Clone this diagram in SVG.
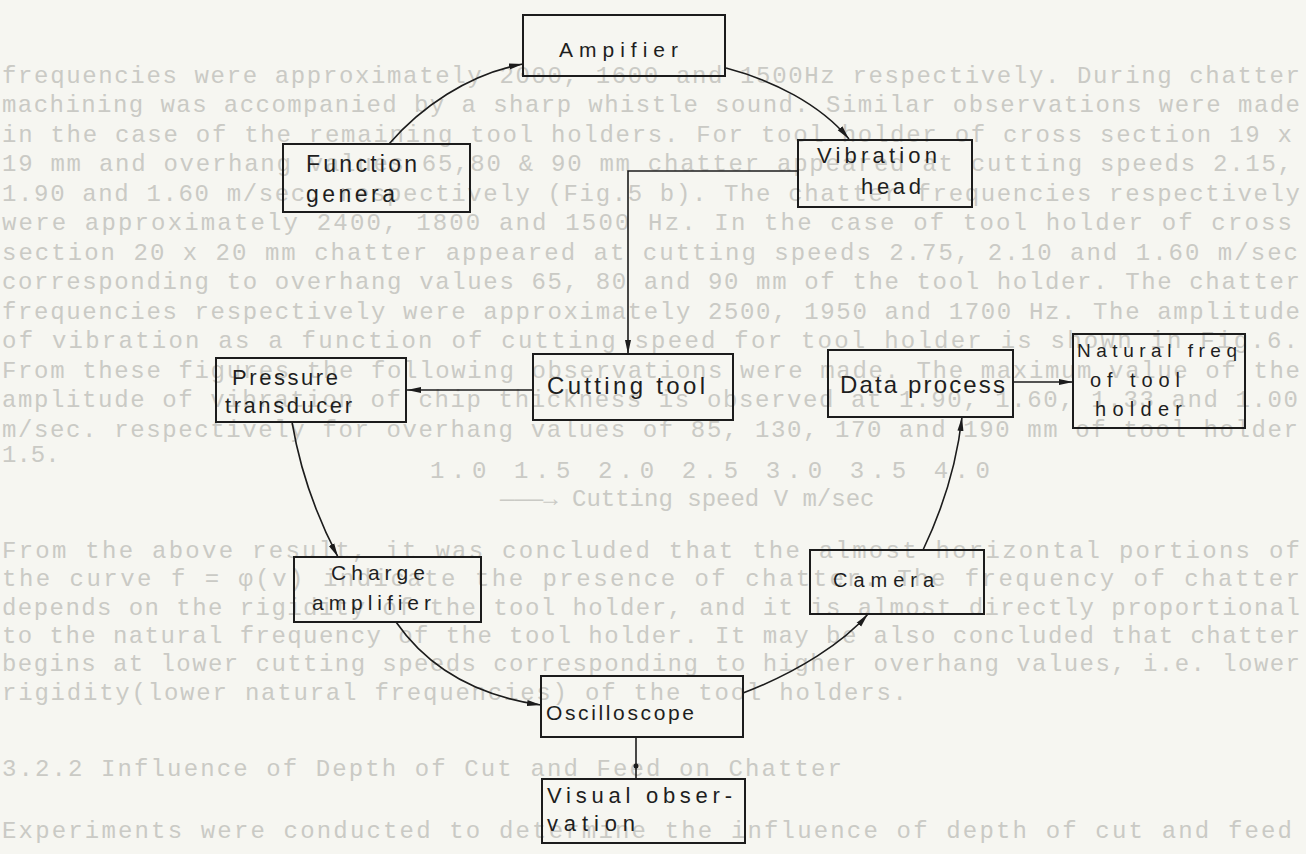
<svg xmlns="http://www.w3.org/2000/svg" width="1306" height="854" viewBox="0 0 1306 854">
<style>
.bg{fill:#f6f6f1}
.bleed{font-family:"Liberation Mono",monospace;font-size:24px;fill:#cacac5}
.box{fill:none;stroke:#1c1c1c;stroke-width:2}
.lbl{font-family:"Liberation Sans",Arial,sans-serif;fill:#1e1e1e}
.edge{fill:none;stroke:#1c1c1c;stroke-width:1.6}
</style>
<defs>
<marker id="arr" viewBox="0 0 14 8" refX="14" refY="4" markerWidth="14" markerHeight="8" markerUnits="userSpaceOnUse" orient="auto">
<path d="M0,1 L14,4 L0,7 z" fill="#1c1c1c"/>
</marker>
</defs>
<rect class="bg" x="0" y="0" width="1306" height="854"/>
<g id="page-bleed" class="bleed">
<text x="2" y="83" textLength="1298" lengthAdjust="spacing">frequencies were approximately 2000, 1600 and 1500Hz respectively. During chatter</text>
<text x="2" y="112" textLength="1298" lengthAdjust="spacing">machining was accompanied by a sharp whistle sound. Similar observations were made</text>
<text x="2" y="142" textLength="1290" lengthAdjust="spacing">in the case of the remaining tool holders. For tool holder of cross section 19 x</text>
<text x="2" y="171" textLength="1290" lengthAdjust="spacing">19 mm and overhang values 65,80 &amp; 90 mm chatter appeared at cutting speeds 2.15,</text>
<text x="2" y="201" textLength="1298" lengthAdjust="spacing">1.90 and 1.60 m/sec. respectively (Fig.5 b). The chatter frequencies respectively</text>
<text x="2" y="230" textLength="1290" lengthAdjust="spacing">were approximately 2400, 1800 and 1500 Hz. In the case of tool holder of cross</text>
<text x="2" y="260" textLength="1296" lengthAdjust="spacing">section 20 x 20 mm chatter appeared at cutting speeds 2.75, 2.10 and 1.60 m/sec</text>
<text x="2" y="289" textLength="1298" lengthAdjust="spacing">corresponding to overhang values 65, 80 and 90 mm of the tool holder. The chatter</text>
<text x="2" y="319" textLength="1298" lengthAdjust="spacing">frequencies respectively were approximately 2500, 1950 and 1700 Hz. The amplitude</text>
<text x="2" y="348" textLength="1296" lengthAdjust="spacing">of vibration as a function of cutting speed for tool holder is shown in Fig.6.</text>
<text x="2" y="378" textLength="1298" lengthAdjust="spacing">From these figures the following observations were made. The maximum value of the</text>
<text x="2" y="407" textLength="1296" lengthAdjust="spacing">amplitude of vibration of chip thickness is observed at 1.90, 1.60, 1.33 and 1.00</text>
<text x="2" y="437" textLength="1296" lengthAdjust="spacing">m/sec. respectively for overhang values of 85, 130, 170 and 190 mm of tool holder</text>
<text x="2" y="462">1.5.</text>
<text x="430" y="478" textLength="560" lengthAdjust="spacing">1.0    1.5    2.0    2.5    3.0    3.5    4.0</text>
<text x="500" y="506">———→ Cutting speed V m/sec</text>
<text x="2" y="558" textLength="1298" lengthAdjust="spacing">    From the above result, it was concluded that the almost horizontal portions of</text>
<text x="2" y="586" textLength="1298" lengthAdjust="spacing">the curve f  = φ(v) indicate the presence of chatter. The frequency of chatter</text>
<text x="2" y="615" textLength="1298" lengthAdjust="spacing">depends on the rigidity of the tool holder, and it is almost directly proportional</text>
<text x="2" y="643" textLength="1298" lengthAdjust="spacing">to the natural frequency of the tool holder. It may be also concluded that chatter</text>
<text x="2" y="671" textLength="1298" lengthAdjust="spacing">begins at lower cutting speeds corresponding to higher overhang values, i.e. lower</text>
<text x="2" y="700" textLength="905" lengthAdjust="spacing">rigidity(lower natural frequencies) of the tool holders.</text>
<text x="2" y="776" textLength="840" lengthAdjust="spacing">3.2.2  Influence of Depth of Cut and Feed on Chatter</text>
<text x="2" y="838" textLength="1290" lengthAdjust="spacing">    Experiments were conducted to determine the influence of depth of cut and feed</text>
</g>
<g id="connectors">
<path class="edge" d="M389,144 C420,108 468,74 523,64" marker-end="url(#arr)"/>
<path class="edge" d="M726,68 C772,80 820,104 849,139" marker-end="url(#arr)"/>
<path class="edge" d="M798,171 H628 V354" marker-end="url(#arr)"/>
<path class="edge" d="M533,390 H407" marker-end="url(#arr)"/>
<path class="edge" d="M292,422 C300,470 316,515 338,557" marker-end="url(#arr)"/>
<path class="edge" d="M396,622 C428,668 478,696 541,705" marker-end="url(#arr)"/>
<path class="edge" d="M743,693 C798,672 844,642 868,614" marker-end="url(#arr)"/>
<path class="edge" d="M923,550 C944,506 957,462 962,417" marker-end="url(#arr)"/>
<path class="edge" d="M1013,382 H1073" marker-end="url(#arr)"/>
<path class="edge" d="M636,737 V779"/>
<circle cx="636" cy="766" r="2.5" fill="#1c1c1c"/>
</g>
<g id="n-ampifier">
<rect class="box" x="523" y="15" width="202" height="61"/>
<text class="lbl" x="559" y="57" font-size="21" textLength="119" lengthAdjust="spacing">Ampifier</text>
</g>
<g id="n-function">
<rect class="box" x="283" y="144" width="187" height="68"/>
<text class="lbl" x="306" y="172" font-size="23" textLength="111" lengthAdjust="spacing">Function</text>
<text class="lbl" x="306" y="202" font-size="23" textLength="89" lengthAdjust="spacing">genera</text>
</g>
<g id="n-vibration">
<rect class="box" x="798" y="140" width="174" height="67"/>
<text class="lbl" x="817" y="163" font-size="22" textLength="120" lengthAdjust="spacing">Vibration</text>
<text class="lbl" x="861" y="194" font-size="22" textLength="60" lengthAdjust="spacing">head</text>
</g>
<g id="n-pressure">
<rect class="box" x="216" y="358" width="190" height="64"/>
<text class="lbl" x="232" y="385" font-size="22" textLength="106" lengthAdjust="spacing">Pressure</text>
<text class="lbl" x="225" y="413" font-size="22" textLength="127" lengthAdjust="spacing">transducer</text>
</g>
<g id="n-cutting">
<rect class="box" x="533" y="354" width="200" height="66"/>
<text class="lbl" x="547" y="394" font-size="24" textLength="158" lengthAdjust="spacing">Cutting tool</text>
</g>
<g id="n-data">
<rect class="box" x="828" y="350" width="185" height="67"/>
<text class="lbl" x="840" y="393" font-size="24" textLength="165" lengthAdjust="spacing">Data process</text>
</g>
<g id="n-natural">
<rect class="box" x="1073" y="334" width="172" height="94"/>
<text class="lbl" x="1077" y="357" font-size="19" textLength="160" lengthAdjust="spacing">Natural freq</text>
<text class="lbl" x="1090" y="387" font-size="20" textLength="90" lengthAdjust="spacing">of tool</text>
<text class="lbl" x="1095" y="416" font-size="20" textLength="87" lengthAdjust="spacing">holder</text>
</g>
<g id="n-charge">
<rect class="box" x="294" y="557" width="187" height="65"/>
<text class="lbl" x="331" y="580" font-size="21" textLength="94" lengthAdjust="spacing">Charge</text>
<text class="lbl" x="312" y="610" font-size="21" textLength="119" lengthAdjust="spacing">amplifier</text>
</g>
<g id="n-camera">
<rect class="box" x="810" y="550" width="174" height="64"/>
<text class="lbl" x="833" y="587" font-size="20" textLength="101" lengthAdjust="spacing">Camera</text>
</g>
<g id="n-oscilloscope">
<rect class="box" x="541" y="676" width="202" height="61"/>
<text class="lbl" x="546" y="720" font-size="21" textLength="148" lengthAdjust="spacing">Oscilloscope</text>
</g>
<g id="n-visual">
<rect class="box" x="542" y="779" width="203" height="64"/>
<text class="lbl" x="547" y="803" font-size="22" textLength="185" lengthAdjust="spacing">Visual obser-</text>
<text class="lbl" x="547" y="831" font-size="22" textLength="88" lengthAdjust="spacing">vation</text>
</g>
</svg>
